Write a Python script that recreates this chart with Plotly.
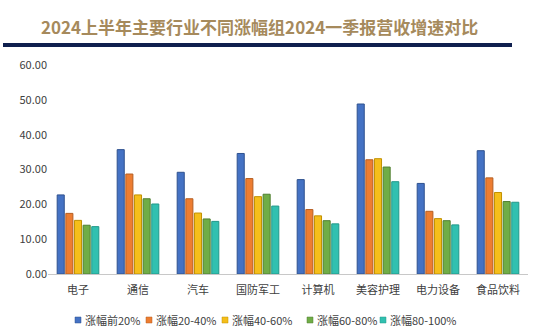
import plotly.graph_objects as go

categories = ["电子", "通信", "汽车", "国防军工", "计算机", "美容护理", "电力设备", "食品饮料"]
series_names = ["涨幅前20%", "涨幅20-40%", "涨幅40-60%", "涨幅60-80%", "涨幅80-100%"]
s_top20 = [22.7, 35.7, 29.2, 34.6, 27.1, 48.8, 26.0, 35.4]
s_20_40 = [17.4, 28.7, 21.6, 27.4, 18.5, 32.8, 18.0, 27.6]
s_40_60 = [15.4, 22.7, 17.5, 22.2, 16.7, 33.1, 15.9, 23.4]
s_60_80 = [14.0, 21.6, 15.8, 22.9, 15.3, 30.7, 15.3, 20.8]
s_80_100 = [13.6, 20.1, 15.1, 19.5, 14.4, 26.5, 14.1, 20.6]
y_ticks = [0, 10, 20, 30, 40, 50, 60]

series_values = [s_top20, s_20_40, s_40_60, s_60_80, s_80_100]
fills = ["#4472C4", "#ED7D31", "#F5BE1A", "#70AD47", "#31C0B0"]
edges = ["#2F528F", "#B65E22", "#C09000", "#507E32", "#22988A"]

font_family = "Noto Sans CJK SC, Microsoft YaHei, sans-serif"

# plot-area pixel geometry (for converting legend/title placement to paper coords)
PL, PW, PB, PH = 48, 480, 274, 209
def px(x):
    return (x - PL) / PW
def py(y):
    return (PB - y) / PH

fig = go.Figure()
for name, vals, c, e in zip(series_names, series_values, fills, edges):
    fig.add_trace(go.Bar(
        x=categories, y=vals, name=name,
        marker=dict(color=c, line=dict(color=e, width=1)),
    ))

annotations = [dict(
    text="<b>2024上半年主要行业不同涨幅组2024一季报营收增速对比</b>",
    xref="paper", yref="paper", x=px(259), y=py(26),
    xanchor="center", yanchor="middle", showarrow=False,
    font=dict(family=font_family, size=17, color="#A68A5C"),
)]
shapes = [dict(
    type="rect", xref="paper", yref="paper",
    x0=px(3), x1=px(512), y0=py(47), y1=py(43),
    fillcolor="#0F1F4E", line=dict(width=0),
)]

# manual legend (Excel-style small squares)
legend_x = [75, 146, 222, 307, 380]
legend_y = 320
for name, lx, c, e in zip(series_names, legend_x, fills, edges):
    shapes.append(dict(
        type="rect", xref="paper", yref="paper",
        x0=px(lx), x1=px(lx + 6), y0=py(legend_y + 3), y1=py(legend_y - 3),
        fillcolor=c, line=dict(color=e, width=0.5),
    ))
    annotations.append(dict(
        text=name, xref="paper", yref="paper", x=px(lx + 7.5), y=py(legend_y),
        xanchor="left", yanchor="middle", showarrow=False,
        font=dict(family=font_family, size=11, color="#404040"),
    ))

fig.update_layout(
    width=550, height=335,
    margin=dict(l=PL, r=550 - PL - PW, t=PB - PH, b=335 - PB),
    paper_bgcolor="white", plot_bgcolor="white",
    barmode="group", bargap=0.28, bargroupgap=0.18,
    font=dict(family=font_family, size=11, color="#404040"),
    showlegend=False,
    xaxis=dict(showline=True, linecolor="#C8C8C8", linewidth=1, ticks="",
               ticklabelstandoff=6,
               tickfont=dict(size=11, color="#404040"), fixedrange=True),
    yaxis=dict(range=[0, 60], tickvals=y_ticks, tickformat=".2f", showgrid=False,
               zeroline=False, showline=False, ticks="", ticklen=0,
               tickfont=dict(size=11, color="#404040"), fixedrange=True),
    annotations=annotations,
    shapes=shapes,
)

fig.write_html("out.html")
